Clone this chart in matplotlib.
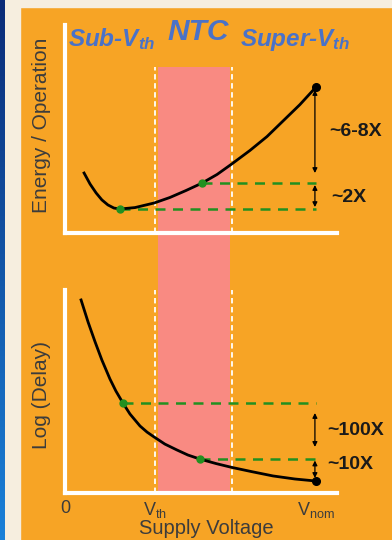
import numpy as np
import matplotlib
matplotlib.use("Agg")
import matplotlib.pyplot as plt
from matplotlib.patches import Rectangle

plt.rcParams['font.family'] = ['Liberation Sans', 'DejaVu Sans']
plt.rcParams['mathtext.fontset'] = 'custom'
plt.rcParams['mathtext.rm'] = 'Liberation Sans'
plt.rcParams['mathtext.it'] = 'Liberation Sans:italic:bold'
plt.rcParams['mathtext.bf'] = 'Liberation Sans:bold'

# supply voltage, normalised to Vnom = 1
v_th = 0.357
v_ntc_hi = 0.665
v_nom = 1.0

# energy / operation, normalised to the minimum energy point
v_energy = [0.076, 0.100, 0.124, 0.147, 0.171, 0.195, 0.219, 0.279, 0.355,
            0.418, 0.482, 0.546, 0.606, 0.665, 0.737, 0.805, 0.869, 0.936,
            1.0]
energy = [2.50, 2.04, 1.67, 1.38, 1.17, 1.04, 1.00, 1.06, 1.25,
          1.48, 1.77, 2.08, 2.44, 2.88, 3.44, 4.02, 4.67, 5.35,
          6.08]
v_emin, e_emin = 0.219, 1.00
v_entc, e_entc = 0.546, 2.08

# log(delay), arbitrary units
v_delay = [0.064, 0.092, 0.120, 0.147, 0.179, 0.203, 0.231, 0.259, 0.299,
           0.327, 0.355, 0.398, 0.446, 0.490, 0.538, 0.602, 0.665, 0.745,
           0.829, 0.916, 1.0]
log_delay = [9.51, 8.42, 7.44, 6.55, 5.62, 5.02, 4.43, 3.89, 3.30,
             3.00, 2.76, 2.41, 2.12, 1.87, 1.67, 1.45, 1.26, 1.05,
             0.84, 0.69, 0.59]
v_dsub, d_dsub = 0.231, 4.43
v_dntc, d_dntc = 0.538, 1.67

orange = '#F7A425'
pink = '#F98A82'
green = '#229020'
blue_txt = '#4A72C8'
gray_txt = '#3c3c3c'

W, H = 392, 540
fig = plt.figure(figsize=(W / 100, H / 100), dpi=100, facecolor=orange)

def fx(px):
    return px / W

def fy(py):
    return 1 - py / H

# slide frame around the chart
fig.add_artist(Rectangle((0, 0), fx(20), 1, transform=fig.transFigure,
                         color='#F6EEDF', zorder=0))
fig.add_artist(Rectangle((0, fy(7)), 1, 7 / H, transform=fig.transFigure,
                         color='#F6EEDF', zorder=0))
grad_ax = fig.add_axes([0, 0, fx(5), 1])
grad_ax.imshow(np.linspace(0, 1, 100).reshape(-1, 1), aspect='auto',
               cmap=matplotlib.colors.LinearSegmentedColormap.from_list(
                   'b', ['#0b2c78', '#1a80d8']))
grad_ax.axis('off')

ax1 = fig.add_axes([fx(65), fy(233), fx(337) - fx(65), (233 - 25) / H])
ax2 = fig.add_axes([fx(65), fy(493), fx(337) - fx(65), (493 - 290) / H])

for ax in (ax1, ax2):
    ax.set_facecolor('none')
    ax.set_xlim(0, 1.084)
    for s in ('top', 'right'):
        ax.spines[s].set_visible(False)
    for s in ('left', 'bottom'):
        ax.spines[s].set_color('white')
        ax.spines[s].set_linewidth(3)
    ax.set_yticks([])
    ax.tick_params(length=0)

ax1.set_ylim(0, 8.67)
ax2.set_ylim(0, 10.0)

# NTC band (continues through the gap between the two panels)
ax1.axvspan(0.371, 0.657, ymin=-0.274, ymax=0.798, color=pink, lw=0,
            zorder=0.5, clip_on=False)
ax2.axvspan(0.371, 0.657, ymin=0, ymax=1, color=pink, lw=0, zorder=0.5)
for xv in (v_th, v_ntc_hi):
    ax1.axvline(xv, ymin=0, ymax=0.798, color='white', lw=1.3,
                ls=(0, (3, 2)), zorder=1)
    ax2.axvline(xv, ymin=0, ymax=1, color='white', lw=1.3,
                ls=(0, (3, 2)), zorder=1)

arw = dict(arrowstyle='<|-|>', color='black', lw=0.9, mutation_scale=7,
           shrinkA=0, shrinkB=0)
lbl = dict(fontsize=14, fontweight='bold', va='center', ha='left',
           color='#1a1a1a')

# energy panel
ax1.plot(v_energy, energy, color='black', lw=2, zorder=3,
         solid_joinstyle='round')
for v0, e0 in ((v_emin, e_emin), (v_entc, e_entc)):
    ax1.plot([v0, v_nom], [e0, e0], color=green, lw=1.8,
             ls=(0, (4, 3)), zorder=2)
    ax1.plot(v0, e0, 'o', color=green, ms=5, zorder=4)
ax1.plot(v_nom, energy[-1], 'o', color='black', ms=5.5, zorder=4)
ax1.annotate('', xy=(0.996, 5.96), xytext=(0.996, 2.50), arrowprops=arw)
ax1.annotate('', xy=(0.996, 2.00), xytext=(0.996, 1.08), arrowprops=arw)
ax1.text(1.052, 4.25, '~6-8X', **lbl)
ax1.text(1.062, 1.50, '~2X', **lbl)
ax1.set_xticks([])
ax1.set_ylabel('Energy / Operation', fontsize=15, color=gray_txt)
ax1.yaxis.set_label_coords(-0.088, 0.52)
ax1.yaxis.label.set_va('center')

# delay panel
ax2.plot(v_delay, log_delay, color='black', lw=2, zorder=3,
         solid_joinstyle='round')
for v0, d0 in ((v_dsub, d_dsub), (v_dntc, d_dntc)):
    ax2.plot([v0, v_nom], [d0, d0], color=green, lw=1.8,
             ls=(0, (4, 3)), zorder=2)
    ax2.plot(v0, d0, 'o', color=green, ms=5, zorder=4)
ax2.plot(v_nom, log_delay[-1], 'o', color='black', ms=5.5, zorder=4)
ax2.annotate('', xy=(0.996, 3.94), xytext=(0.996, 2.27), arrowprops=arw)
ax2.annotate('', xy=(0.996, 1.60), xytext=(0.996, 0.74), arrowprops=arw)
ax2.text(1.044, 3.10, '~100X', **lbl)
ax2.text(1.044, 1.38, '~10X', **lbl)
ax2.set_xticks([0, v_th, v_nom])
ax2.set_xticklabels(['0', r'$\mathrm{V_{th}}$', r'$\mathrm{V_{nom}}$'],
                    fontsize=13, color=gray_txt)
ax2.tick_params(axis='x', pad=5)
ax2.set_ylabel('Log (Delay)', fontsize=15, color=gray_txt)
ax2.yaxis.set_label_coords(-0.088, 0.483)
ax2.yaxis.label.set_va('center')
ax2.set_xlabel('Supply Voltage', fontsize=14.5, color=gray_txt)
ax2.xaxis.set_label_coords(0.518, -0.177)
ax2.xaxis.label.set_va('center')

# region headings
fig.text(fx(68), fy(46), r'Sub-$V_{th}$', fontsize=17.5, fontweight='bold',
         fontstyle='italic', color=blue_txt, va='baseline')
fig.text(fx(167), fy(40), 'NTC', fontsize=21.5, fontweight='bold',
         fontstyle='italic', color=blue_txt, va='baseline')
fig.text(fx(240), fy(46), r'Super-$V_{th}$', fontsize=17.5,
         fontweight='bold', fontstyle='italic', color=blue_txt,
         va='baseline')

fig.savefig('out.png', dpi=100, facecolor=orange)
